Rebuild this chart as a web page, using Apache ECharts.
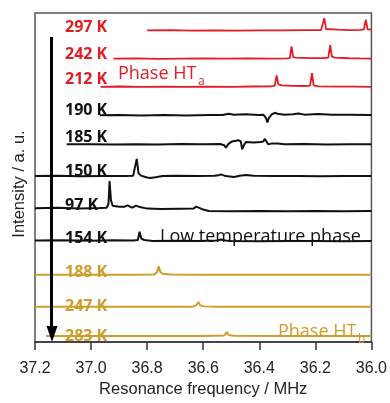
<!DOCTYPE html>
<html>
<head>
<meta charset="utf-8">
<script src="https://cdn.jsdelivr.net/npm/echarts@6/dist/echarts.min.js"></script>
<style>
html,body{margin:0;padding:0;background:#fff;}
#c{width:390px;height:403px;}
</style>
</head>
<body>
<div id="c"></div>
<script>
// ---- data (frequency in MHz, intensity in a.u. relative to each trace baseline) ----
const xTicks = [37.2, 37.0, 36.8, 36.6, 36.4, 36.2, 36.0];
const temps = ['297 K', '242 K', '212 K', '190 K', '185 K', '150 K', '97 K', '154 K', '188 K', '247 K', '283 K'];
const phases = ['HTa', 'HTa', 'HTa', 'LT', 'LT', 'LT', 'LT', 'LT', 'HTb', 'HTb', 'HTb'];
const offsets = [321, 292, 263, 233.7, 203.7, 171, 138, 104.7, 69.3, 36.3, 6.3];

const spec297 = [[36.80,0],[36.72,0.3],[36.64,-0.2],[36.56,0.2],[36.48,-0.1],[36.40,0.2],[36.32,0],[36.24,0.3],[36.18,0.3],[36.174,0.6],[36.168,12.7],[36.162,1.5],[36.155,0.9],[36.12,0.8],[36.08,0.4],[36.04,0.6],[36.027,1.2],[36.020,11],[36.014,1.4],[36.006,0.9],[36.0,0.8]];
const spec242 = [[36.92,0],[36.84,0.2],[36.76,-0.2],[36.68,0.1],[36.60,0.2],[36.52,-0.1],[36.44,0.2],[36.36,0],[36.30,0.3],[36.291,0.6],[36.285,12.7],[36.279,1.6],[36.27,1],[36.22,0.6],[36.17,0.5],[36.154,1],[36.147,14],[36.141,2],[36.13,1],[36.08,0.4],[36.04,0.2],[36.0,0.1]];
const spec212 = [[36.966,0],[36.90,0.3],[36.82,0],[36.74,0.2],[36.66,-0.1],[36.58,0.2],[36.50,0],[36.42,0.3],[36.36,0.5],[36.345,1],[36.338,11.7],[36.332,2.5],[36.32,1.5],[36.28,1],[36.24,0.8],[36.219,1.2],[36.212,14],[36.206,1.5],[36.19,0.5],[36.12,0.2],[36.06,0.1],[36.0,0]];
const spec190 = [[36.969,0],[36.90,0.3],[36.82,-0.3],[36.74,0.2],[36.66,-0.2],[36.58,0.3],[36.53,0.2],[36.51,1.5],[36.49,0.5],[36.45,1],[36.40,0.3],[36.385,0.5],[36.376,-3],[36.371,-7.5],[36.366,-3],[36.357,0.5],[36.345,2.5],[36.335,1.5],[36.31,0.5],[36.28,1],[36.26,1.8],[36.24,0.6],[36.19,1.2],[36.14,0.4],[36.08,0.6],[36.0,0.3]];
const spec185 = [[37.087,0],[37.0,0.2],[36.92,-0.2],[36.84,0.2],[36.76,-0.1],[36.68,0.3],[36.60,0],[36.54,0.3],[36.525,-1],[36.519,-3.4],[36.510,0.5],[36.497,3],[36.475,4.3],[36.466,3],[36.461,-5],[36.455,-1],[36.448,2.5],[36.42,2],[36.395,2.5],[36.386,3],[36.380,5.6],[36.373,5],[36.368,0],[36.363,-1],[36.354,1],[36.335,0.8],[36.31,0],[36.24,0.3],[36.16,-0.2],[36.08,0.2],[36.0,0]];
const spec150 = [[37.2,0],[37.12,0.3],[37.04,-0.2],[36.96,0.2],[36.88,0],[36.85,0.3],[36.843,1.2],[36.837,17.7],[36.831,3],[36.822,0.5],[36.80,-1.5],[36.79,-2],[36.77,-1.2],[36.745,0],[36.70,0.4],[36.62,0.2],[36.56,0.4],[36.545,0.8],[36.537,1.8],[36.52,0],[36.49,-1],[36.47,0.3],[36.448,1.2],[36.42,0.3],[36.34,0],[36.26,0.2],[36.18,-0.1],[36.10,0.1],[36.0,0]];
const spec97 = [[37.2,0],[37.12,0.3],[37.04,-0.3],[36.97,0.2],[36.945,0.5],[36.938,4],[36.934,28],[36.929,8],[36.923,2.5],[36.90,1.5],[36.88,1.5],[36.869,2.8],[36.86,1.2],[36.852,0.5],[36.840,2.6],[36.83,1.5],[36.80,-0.5],[36.75,-0.8],[36.68,-0.6],[36.635,-0.5],[36.625,1.5],[36.620,3.5],[36.612,0],[36.60,-1.5],[36.58,-3],[36.50,-3.2],[36.40,-3],[36.30,-3.3],[36.20,-3],[36.10,-3.2],[36.0,-3]];
const spec154 = [[37.2,0],[37.10,0.2],[37.0,-0.2],[36.92,0.2],[36.85,0],[36.833,0.5],[36.827,9],[36.821,2],[36.81,0.5],[36.78,-0.5],[36.70,-0.3],[36.62,-0.5],[36.55,0],[36.537,1],[36.531,2],[36.52,0],[36.50,-0.5],[36.40,-0.7],[36.30,-0.5],[36.20,-0.6],[36.10,-0.7],[36.0,-0.6]];
const spec188 = [[37.2,0],[37.0,0.1],[36.85,0],[36.775,0.3],[36.765,2.5],[36.759,8.7],[36.753,3],[36.745,1],[36.72,0.3],[36.60,0],[36.4,0.1],[36.2,0],[36.0,0]];
const spec247 = [[37.2,0],[37.0,0],[36.8,0.1],[36.64,0],[36.625,1.5],[36.617,5],[36.610,1.5],[36.60,0.5],[36.55,0],[36.3,0.1],[36.0,0]];
const spec283 = [[37.161,0],[37.0,0],[36.8,0.1],[36.6,0],[36.525,0.5],[36.516,4],[36.509,1],[36.49,0.2],[36.3,0],[36.0,0]];
const spectra = [spec297, spec242, spec212, spec190, spec185, spec150, spec97, spec154, spec188, spec247, spec283];

// ---- styles ----
const RED = '#e31b23', GOLD = '#d09c2a', BLACK = '#111111';
const phaseColor = {HTa: RED, LT: BLACK, HTb: GOLD};
const phaseWidth = {HTa: 1.8, LT: 2, HTb: 2};
const labelY = [27, 54, 79, 110, 137, 171.5, 205, 238.5, 272.5, 306.5, 336];

const chart = echarts.init(document.getElementById('c'), null, {renderer: 'canvas'});

const series = spectra.map((s, i) => ({
  type: 'line',
  name: temps[i],
  data: s.map(p => [p[0], p[1] + offsets[i]]),
  showSymbol: false,
  symbol: 'none',
  smooth: false,
  lineStyle: {color: phaseColor[phases[i]], width: phaseWidth[phases[i]]},
  itemStyle: {color: phaseColor[phases[i]]},
  animation: false,
  silent: true,
  z: 3
}));

const graphics = [];
temps.forEach((t, i) => {
  graphics.push({
    type: 'text', x: 65, y: labelY[i], z: 10,
    style: {text: t, fill: phaseColor[phases[i]], font: 'bold 16px "Open Sans", sans-serif', align: 'left', verticalAlign: 'middle'}
  });
});
// phase annotations
graphics.push({type: 'text', x: 118, y: 74, z: 10, style: {text: 'Phase HT', fill: RED, font: '18px "Open Sans", sans-serif', align: 'left', verticalAlign: 'middle'}});
graphics.push({type: 'text', x: 198, y: 82, z: 10, style: {text: 'a', fill: RED, font: '12px "Open Sans", sans-serif', align: 'left', verticalAlign: 'middle'}});
graphics.push({type: 'text', x: 160, y: 236.5, z: 10, style: {text: 'Low temperature phase', fill: BLACK, font: '18px "Open Sans", sans-serif', align: 'left', verticalAlign: 'middle'}});
graphics.push({type: 'text', x: 278, y: 331.5, z: 10, style: {text: 'Phase HT', fill: GOLD, font: '18px "Open Sans", sans-serif', align: 'left', verticalAlign: 'middle'}});
graphics.push({type: 'text', x: 358, y: 339.5, z: 10, style: {text: 'b', fill: GOLD, font: '12px "Open Sans", sans-serif', align: 'left', verticalAlign: 'middle'}});
// y-axis title
graphics.push({type: 'text', x: 19, y: 184, rotation: Math.PI / 2, z: 10, style: {text: 'Intensity / a. u.', fill: '#222', font: '16.5px "Liberation Sans", Arial, sans-serif', align: 'center', verticalAlign: 'middle'}});
// temperature-sequence arrow
graphics.push({type: 'line', z: 10, shape: {x1: 51.5, y1: 37, x2: 51.5, y2: 328}, style: {stroke: '#000', lineWidth: 3}});
graphics.push({type: 'polygon', z: 10, shape: {points: [[46.5, 326], [57.5, 326], [52, 342]]}, style: {fill: '#000'}});

chart.setOption({
  animation: false,
  backgroundColor: '#fff',
  grid: {left: 35, right: 17, top: 13, bottom: 51, show: true, borderColor: '#555', borderWidth: 1.5, backgroundColor: 'transparent', containLabel: false},
  xAxis: {
    type: 'value', inverse: true, min: 36.0, max: 37.2, interval: 0.2,
    axisLine: {show: true, onZero: false, lineStyle: {color: '#333', width: 1.5}},
    axisTick: {show: true, inside: false, length: 8, lineStyle: {color: '#333', width: 1.5}},
    splitLine: {show: false},
    axisLabel: {show: true, margin: 18, color: '#222', fontSize: 16, fontFamily: '"Liberation Sans", Arial, sans-serif', showMinLabel: true, showMaxLabel: true, hideOverlap: false,
      formatter: v => xTicks.find(t => Math.abs(t - v) < 1e-6) !== undefined ? v.toFixed(1) : ''},
    name: 'Resonance frequency / MHz', nameLocation: 'middle', nameGap: 35,
    nameTextStyle: {color: '#222', fontSize: 16.5, fontFamily: '"Liberation Sans", Arial, sans-serif'}
  },
  yAxis: {
    type: 'value', min: 0, max: 339, show: false,
    splitLine: {show: false}
  },
  series: series,
  graphic: graphics
});
</script>
</body>
</html>
